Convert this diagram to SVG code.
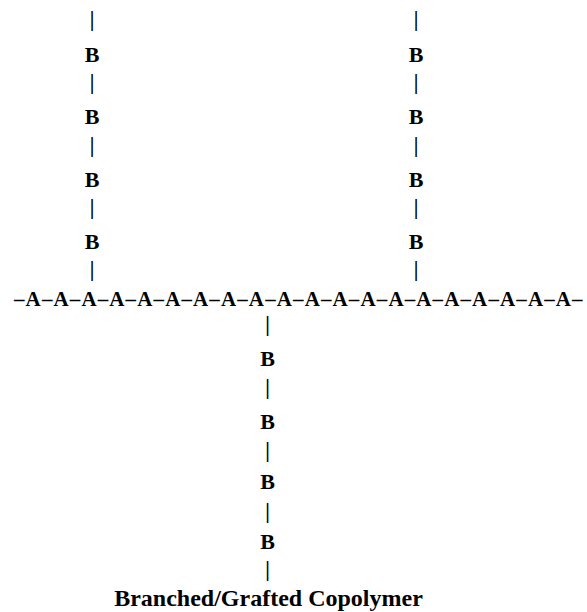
<svg xmlns="http://www.w3.org/2000/svg" width="587" height="612" viewBox="0 0 587 612">
<style>
text{font-family:"Liberation Serif","Times New Roman",serif;font-weight:bold;fill:#000}
.c{font-size:21px;text-anchor:middle}
.b{font-size:22px;text-anchor:middle}
.chain{font-size:21px;letter-spacing:1.12px}
.title{font-size:24px;text-anchor:middle}
</style>
<rect width="587" height="612" fill="#fff"/>
<g id="backbone">
<text class="chain" x="14" y="305.5">–A–A–A–A–A–A–A–A–A–A–A–A–A–A–A–A–A–A–A–A–</text>
</g>
<g id="branch-left">
<text class="c" x="92" y="26">|</text>
<text class="b" x="92" y="62">B</text>
<text class="c" x="92" y="89">|</text>
<text class="b" x="92" y="124">B</text>
<text class="c" x="92" y="152">|</text>
<text class="b" x="92" y="187">B</text>
<text class="c" x="92" y="214">|</text>
<text class="b" x="92" y="249">B</text>
<text class="c" x="92" y="276">|</text>
</g>
<g id="branch-right">
<text class="c" x="416" y="26">|</text>
<text class="b" x="416" y="62">B</text>
<text class="c" x="416" y="89">|</text>
<text class="b" x="416" y="124">B</text>
<text class="c" x="416" y="152">|</text>
<text class="b" x="416" y="187">B</text>
<text class="c" x="416" y="214">|</text>
<text class="b" x="416" y="249">B</text>
<text class="c" x="416" y="276">|</text>
</g>
<g id="branch-center">
<text class="c" x="267.5" y="331">|</text>
<text class="b" x="267.5" y="366">B</text>
<text class="c" x="267.5" y="394">|</text>
<text class="b" x="267.5" y="429">B</text>
<text class="c" x="267.5" y="457">|</text>
<text class="b" x="267.5" y="489">B</text>
<text class="c" x="267.5" y="518">|</text>
<text class="b" x="267.5" y="549">B</text>
<text class="c" x="267.5" y="576">|</text>
</g>
<g id="title">
<text class="title" x="268.5" y="606">Branched/Grafted Copolymer</text>
</g>
</svg>
